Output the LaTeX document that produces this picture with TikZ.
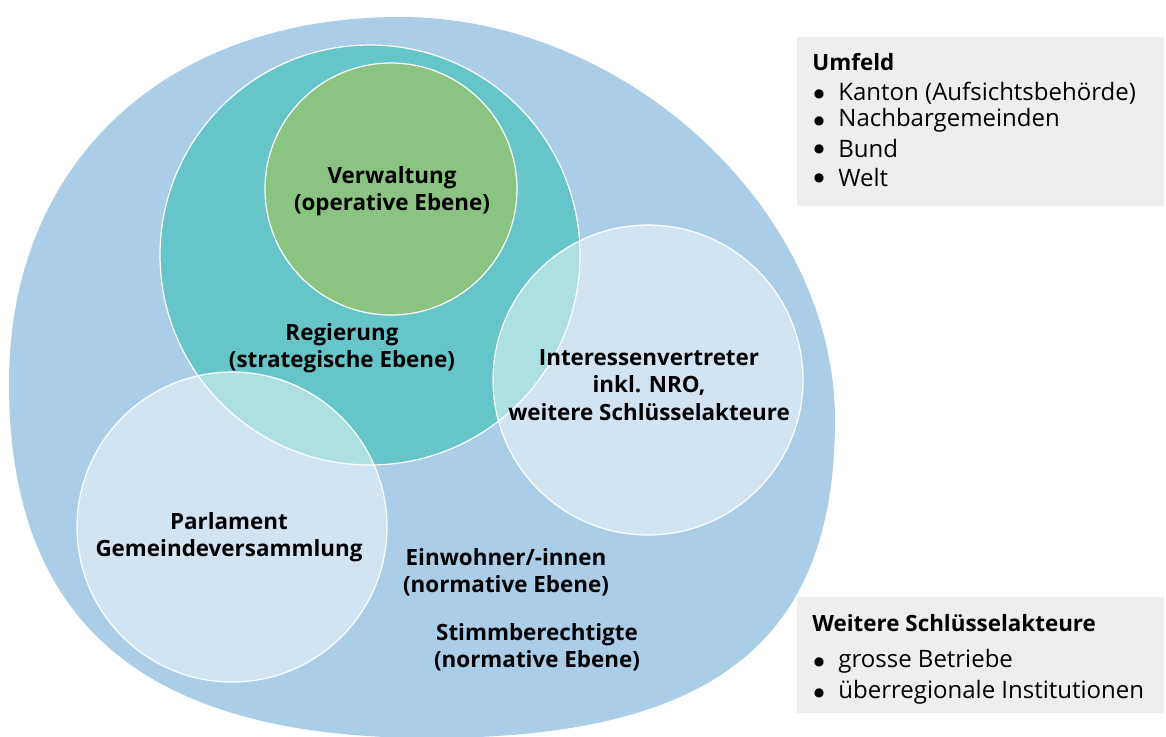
\documentclass[tikz,border=0pt]{standalone}
\usepackage{fontspec}
\setmainfont{Open Sans}
\newfontfamily\symfont{DejaVu Sans}
\definecolor{blobblue}{HTML}{AACDE8}
\definecolor{regteal}{HTML}{65C5C8}
\definecolor{verwgreen}{HTML}{89C480}
\definecolor{boxgray}{HTML}{EDEFEF}
\tikzset{
  ring/.style={circle, draw=white, line width=0.6pt, inner sep=0pt},
  lightring/.style={ring, fill=white, fill opacity=0.47, draw opacity=1},
  lbl/.style={align=center, font=\fontsize{11.2}{13.6}\selectfont\bfseries, inner sep=0pt},
  boxtitle/.style={anchor=west, font=\fontsize{11.2}{13}\selectfont\bfseries, inner sep=0pt},
  boxitem/.style={anchor=west, font=\fontsize{12}{14}\selectfont, inner sep=0pt},
  bulletdot/.style={anchor=center, font=\symfont\fontsize{6}{6}\selectfont, inner sep=0pt},
  infobox/.style={fill=boxgray, draw=none}
}
\begin{document}
\begin{tikzpicture}[x=0.5pt,y=-0.5pt]
\useasboundingbox (0,0) rectangle (1166,736);
% outer blob
\fill[blobblue] (9,383) .. controls (9,163) and (165,17) .. (400,17)
  .. controls (626,17) and (835,210) .. (835,420)
  .. controls (835,641) and (714,738) .. (430,738)
  .. controls (144,738) and (9,623) .. cycle;
% circles
\node[ring, fill=regteal, minimum size=210pt] (reg) at (370,255) {};
\node[ring, fill=verwgreen, minimum size=126pt] (verw) at (391,189) {};
\node[lightring, minimum size=155pt] (parl) at (232,527) {};
\node[lightring, minimum size=155pt] (inter) at (648,380) {};
% labels
\node[lbl] (tverw) at (392,191) {Verwaltung\\(operative Ebene)};
\node[lbl] (treg) at (342,348) {Regierung\\(strategische Ebene)};
\node[lbl] (tinter) at (649,385) {Interessenvertreter\\inkl. NRO,\\weitere Schlüsselakteure};
\node[lbl] (tparl) at (229,537) {Parlament\\Gemeindeversammlung};
\node[lbl] (tein) at (506,572) {Einwohner/-innen\\(normative Ebene)};
\node[lbl] (tstimm) at (537,647) {Stimmberechtigte\\(normative Ebene)};
% box Umfeld
\node[infobox, anchor=north west, minimum width=183.5pt, minimum height=84.5pt, inner sep=0pt] (box1) at (797,37) {};
\node[boxtitle] (b1t) at (812,62) {Umfeld};
\foreach \y/\t [count=\i] in {93/Kanton (Aufsichtsbehörde),120/Nachbargemeinden,148/Bund,177/Welt}{
  \node[bulletdot] (b1d\i) at (819,\y+1) {●};
  \node[boxitem] (b1i\i) at (838,\y) {\t};
}
% box Weitere
\node[infobox, anchor=north west, minimum width=183.5pt, minimum height=58pt, inner sep=0pt] (box2) at (797,597) {};
\node[boxtitle] (b2t) at (812,623) {Weitere Schlüsselakteure};
\foreach \y/\t [count=\i] in {661/grosse Betriebe/Arbeitgeber,692/überregionale Institutionen}{
  \node[bulletdot] (b2d\i) at (819,\y+1) {●};
  \node[boxitem] (b2i\i) at (838,\y) {\t};
}
\end{tikzpicture}
\end{document}
